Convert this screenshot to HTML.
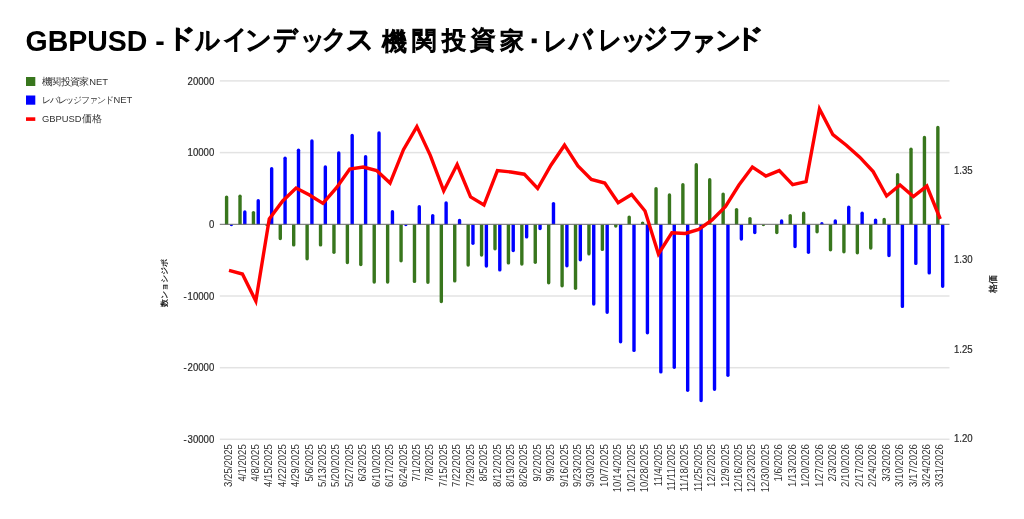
<!DOCTYPE html>
<html><head><meta charset="utf-8">
<style>
html,body{margin:0;padding:0;background:#fff;width:1024px;height:519px;overflow:hidden}
svg{position:absolute;left:0;top:0;will-change:transform}
text{font-family:"Liberation Sans",sans-serif}
.ax{font-size:9.6px;fill:#2a2a2a;stroke:#2a2a2a;stroke-width:0.18px}
.lg{font-size:9.4px;fill:#333}
.lj{fill:#333}
.xl{stroke:none;fill:#333}
.title{font-size:28.5px;font-weight:bold;fill:#000}
.tj{font-size:29px;fill:#000;stroke:#000;stroke-width:1.6px}
</style></head><body>
<svg width="1024" height="519" viewBox="0 0 1024 519">
<text transform="translate(25.5,51.3) scale(1,1.06)" class="title">GBPUSD -</text>
<text transform="translate(165.65,47.22) scale(1.025,0.896)" class="tj">ド</text>
<text transform="translate(195.0,49.0) scale(0.847,0.9)" class="tj">ル</text>
<text transform="translate(223.49,48.08) scale(0.812,0.883)" class="tj">イ</text>
<text transform="translate(245.41,48.95) scale(0.896,0.917)" class="tj">ン</text>
<text transform="translate(273.46,48.59) scale(0.84,0.977)" class="tj">デ</text>
<text transform="translate(299.61,48.79) scale(0.848,0.926)" class="tj">ッ</text>
<text transform="translate(322.2,48.3) scale(0.848,0.909)" class="tj">ク</text>
<text transform="translate(346.05,49.37) scale(0.952,0.967)" class="tj">ス</text>
<text transform="translate(382.08,49.7) scale(0.88,0.876)" class="tj">機</text>
<text transform="translate(411.6,48.82) scale(0.857,0.876)" class="tj">関</text>
<text transform="translate(441.64,48.82) scale(0.84,0.876)" class="tj">投</text>
<text transform="translate(469.9,48.12) scale(0.875,0.847)" class="tj">資</text>
<text transform="translate(500.3,48.69) scale(0.831,0.832)" class="tj">家</text>
<text transform="translate(542.75,49.87) scale(0.817,0.917)" class="tj">レ</text>
<text transform="translate(569.41,49.7) scale(0.806,1.009)" class="tj">バ</text>
<text transform="translate(597.5,49.47) scale(0.8,0.917)" class="tj">レ</text>
<text transform="translate(619.6,48.79) scale(0.9,0.926)" class="tj">ッ</text>
<text transform="translate(643.42,48.16) scale(0.838,0.984)" class="tj">ジ</text>
<text transform="translate(668.73,48.25) scale(0.833,0.863)" class="tj">フ</text>
<text transform="translate(689.87,49.78) scale(0.871,0.905)" class="tj">ァ</text>
<text transform="translate(714.52,49.0) scale(0.892,0.9)" class="tj">ン</text>
<text transform="translate(733.87,47.22) scale(1.028,0.896)" class="tj">ド</text>
<rect x="531.7" y="38.5" width="5" height="4.7" fill="#000"/>
<rect x="26" y="77" width="9.3" height="9" fill="#38761d"/>
<rect x="26" y="95.5" width="9.3" height="9.2" fill="#0000ff"/>
<rect x="26" y="117.3" width="9.3" height="3.6" fill="#ff0000"/>
<text x="42.0" y="84.9" class="lg lj" style="font-size:9.5px">機</text><text x="51.3" y="84.9" class="lg lj" style="font-size:9.5px">関</text><text x="60.6" y="84.9" class="lg lj" style="font-size:9.5px">投</text><text x="69.9" y="84.9" class="lg lj" style="font-size:9.5px">資</text><text x="79.2" y="84.9" class="lg lj" style="font-size:9.5px">家</text>
<text x="89.3" y="84.6" class="lg">NET</text>
<text x="42" y="103.3" class="lg lj" textLength="71.5" lengthAdjust="spacing">レバレッジファンド</text>
<text x="113.6" y="103.3" class="lg">NET</text>
<text x="42" y="122.2" class="lg">GBPUSD</text>
<text x="81.8" y="122.4" class="lg lj" style="font-size:9.5px">価格</text>
<text transform="translate(167,283) rotate(-90)" text-anchor="middle" class="lg" style="font-size:8.1px;fill:#111;stroke:#111;stroke-width:0.25px">数ンョシジポ</text>
<text transform="translate(996,284) rotate(-90)" text-anchor="middle" class="lg" style="font-size:8.8px;fill:#111;stroke:#111;stroke-width:0.25px">格価</text>
<rect x="219.8" y="80.15" width="729.7" height="1.5" fill="#e3e3e3"/>
<rect x="219.8" y="151.85" width="729.7" height="1.5" fill="#e3e3e3"/>
<rect x="219.8" y="295.25" width="729.7" height="1.5" fill="#e3e3e3"/>
<rect x="219.8" y="366.95" width="729.7" height="1.5" fill="#e3e3e3"/>
<rect x="219.8" y="438.55" width="729.7" height="1.5" fill="#e3e3e3"/>
<text transform="translate(214.3,84.60) scale(1,1.13)" text-anchor="end" class="ax">20000</text>
<text transform="translate(214.3,156.30) scale(1,1.13)" text-anchor="end" class="ax">10000</text>
<text transform="translate(214.3,228.10) scale(1,1.13)" text-anchor="end" class="ax">0</text>
<text transform="translate(214.3,299.70) scale(1,1.13)" text-anchor="end" class="ax">10000</text>
<text transform="translate(183.6,299.70) scale(1,1.13)" class="ax">-</text>
<text transform="translate(214.3,371.40) scale(1,1.13)" text-anchor="end" class="ax">20000</text>
<text transform="translate(183.6,371.40) scale(1,1.13)" class="ax">-</text>
<text transform="translate(214.3,443.00) scale(1,1.13)" text-anchor="end" class="ax">30000</text>
<text transform="translate(183.6,443.00) scale(1,1.13)" class="ax">-</text>
<text transform="translate(953.9,173.50) scale(1,1.13)" class="ax">1.35</text>
<text transform="translate(953.9,263.00) scale(1,1.13)" class="ax">1.30</text>
<text transform="translate(953.9,352.60) scale(1,1.13)" class="ax">1.25</text>
<text transform="translate(953.9,442.40) scale(1,1.13)" class="ax">1.20</text>
<path d="M224.90,224.40V197.10A1.70,1.70 0 0 1 228.30,197.10V224.40Z" fill="#38761d"/>
<path d="M229.70,224.40V224.50A1.70,1.70 0 0 0 233.10,224.50V224.40Z" fill="#0000ff"/>
<path d="M238.32,224.40V196.20A1.70,1.70 0 0 1 241.72,196.20V224.40Z" fill="#38761d"/>
<path d="M243.12,224.40V212.00A1.70,1.70 0 0 1 246.52,212.00V224.40Z" fill="#0000ff"/>
<path d="M251.74,224.40V212.60A1.70,1.70 0 0 1 255.14,212.60V224.40Z" fill="#38761d"/>
<path d="M256.54,224.40V200.70A1.70,1.70 0 0 1 259.94,200.70V224.40Z" fill="#0000ff"/>
<path d="M265.16,224.40V224.50A1.70,1.70 0 0 0 268.56,224.50V224.40Z" fill="#38761d"/>
<path d="M269.96,224.40V168.70A1.70,1.70 0 0 1 273.36,168.70V224.40Z" fill="#0000ff"/>
<path d="M278.58,224.40V238.50A1.70,1.70 0 0 0 281.98,238.50V224.40Z" fill="#38761d"/>
<path d="M283.38,224.40V158.20A1.70,1.70 0 0 1 286.78,158.20V224.40Z" fill="#0000ff"/>
<path d="M292.00,224.40V244.90A1.70,1.70 0 0 0 295.40,244.90V224.40Z" fill="#38761d"/>
<path d="M296.80,224.40V150.20A1.70,1.70 0 0 1 300.20,150.20V224.40Z" fill="#0000ff"/>
<path d="M305.42,224.40V258.70A1.70,1.70 0 0 0 308.82,258.70V224.40Z" fill="#38761d"/>
<path d="M310.22,224.40V140.90A1.70,1.70 0 0 1 313.62,140.90V224.40Z" fill="#0000ff"/>
<path d="M318.84,224.40V244.90A1.70,1.70 0 0 0 322.24,244.90V224.40Z" fill="#38761d"/>
<path d="M323.64,224.40V166.90A1.70,1.70 0 0 1 327.04,166.90V224.40Z" fill="#0000ff"/>
<path d="M332.26,224.40V252.30A1.70,1.70 0 0 0 335.66,252.30V224.40Z" fill="#38761d"/>
<path d="M337.06,224.40V152.90A1.70,1.70 0 0 1 340.46,152.90V224.40Z" fill="#0000ff"/>
<path d="M345.68,224.40V262.50A1.70,1.70 0 0 0 349.08,262.50V224.40Z" fill="#38761d"/>
<path d="M350.48,224.40V135.50A1.70,1.70 0 0 1 353.88,135.50V224.40Z" fill="#0000ff"/>
<path d="M359.10,224.40V264.60A1.70,1.70 0 0 0 362.50,264.60V224.40Z" fill="#38761d"/>
<path d="M363.90,224.40V156.70A1.70,1.70 0 0 1 367.30,156.70V224.40Z" fill="#0000ff"/>
<path d="M372.52,224.40V282.00A1.70,1.70 0 0 0 375.92,282.00V224.40Z" fill="#38761d"/>
<path d="M377.32,224.40V132.90A1.70,1.70 0 0 1 380.72,132.90V224.40Z" fill="#0000ff"/>
<path d="M385.94,224.40V282.00A1.70,1.70 0 0 0 389.34,282.00V224.40Z" fill="#38761d"/>
<path d="M390.74,224.40V211.70A1.70,1.70 0 0 1 394.14,211.70V224.40Z" fill="#0000ff"/>
<path d="M399.36,224.40V260.80A1.70,1.70 0 0 0 402.76,260.80V224.40Z" fill="#38761d"/>
<path d="M404.16,224.40V224.50A1.70,1.70 0 0 0 407.56,224.50V224.40Z" fill="#0000ff"/>
<path d="M412.78,224.40V281.40A1.70,1.70 0 0 0 416.18,281.40V224.40Z" fill="#38761d"/>
<path d="M417.58,224.40V206.70A1.70,1.70 0 0 1 420.98,206.70V224.40Z" fill="#0000ff"/>
<path d="M426.20,224.40V282.20A1.70,1.70 0 0 0 429.60,282.20V224.40Z" fill="#38761d"/>
<path d="M431.00,224.40V215.60A1.70,1.70 0 0 1 434.40,215.60V224.40Z" fill="#0000ff"/>
<path d="M439.62,224.40V301.50A1.70,1.70 0 0 0 443.02,301.50V224.40Z" fill="#38761d"/>
<path d="M444.42,224.40V203.00A1.70,1.70 0 0 1 447.82,203.00V224.40Z" fill="#0000ff"/>
<path d="M453.04,224.40V280.90A1.70,1.70 0 0 0 456.44,280.90V224.40Z" fill="#38761d"/>
<path d="M457.84,224.40V220.40A1.70,1.70 0 0 1 461.24,220.40V224.40Z" fill="#0000ff"/>
<path d="M466.46,224.40V265.00A1.70,1.70 0 0 0 469.86,265.00V224.40Z" fill="#38761d"/>
<path d="M471.26,224.40V243.20A1.70,1.70 0 0 0 474.66,243.20V224.40Z" fill="#0000ff"/>
<path d="M479.88,224.40V255.10A1.70,1.70 0 0 0 483.28,255.10V224.40Z" fill="#38761d"/>
<path d="M484.68,224.40V266.10A1.70,1.70 0 0 0 488.08,266.10V224.40Z" fill="#0000ff"/>
<path d="M493.30,224.40V248.70A1.70,1.70 0 0 0 496.70,248.70V224.40Z" fill="#38761d"/>
<path d="M498.10,224.40V269.90A1.70,1.70 0 0 0 501.50,269.90V224.40Z" fill="#0000ff"/>
<path d="M506.72,224.40V262.90A1.70,1.70 0 0 0 510.12,262.90V224.40Z" fill="#38761d"/>
<path d="M511.52,224.40V250.60A1.70,1.70 0 0 0 514.92,250.60V224.40Z" fill="#0000ff"/>
<path d="M520.14,224.40V264.00A1.70,1.70 0 0 0 523.54,264.00V224.40Z" fill="#38761d"/>
<path d="M524.94,224.40V236.90A1.70,1.70 0 0 0 528.34,236.90V224.40Z" fill="#0000ff"/>
<path d="M533.56,224.40V262.20A1.70,1.70 0 0 0 536.96,262.20V224.40Z" fill="#38761d"/>
<path d="M538.36,224.40V228.50A1.70,1.70 0 0 0 541.76,228.50V224.40Z" fill="#0000ff"/>
<path d="M546.98,224.40V282.80A1.70,1.70 0 0 0 550.38,282.80V224.40Z" fill="#38761d"/>
<path d="M551.78,224.40V203.60A1.70,1.70 0 0 1 555.18,203.60V224.40Z" fill="#0000ff"/>
<path d="M560.40,224.40V285.80A1.70,1.70 0 0 0 563.80,285.80V224.40Z" fill="#38761d"/>
<path d="M565.20,224.40V265.80A1.70,1.70 0 0 0 568.60,265.80V224.40Z" fill="#0000ff"/>
<path d="M573.82,224.40V288.20A1.70,1.70 0 0 0 577.22,288.20V224.40Z" fill="#38761d"/>
<path d="M578.62,224.40V259.80A1.70,1.70 0 0 0 582.02,259.80V224.40Z" fill="#0000ff"/>
<path d="M587.24,224.40V253.80A1.70,1.70 0 0 0 590.64,253.80V224.40Z" fill="#38761d"/>
<path d="M592.04,224.40V304.00A1.70,1.70 0 0 0 595.44,304.00V224.40Z" fill="#0000ff"/>
<path d="M600.66,224.40V249.40A1.70,1.70 0 0 0 604.06,249.40V224.40Z" fill="#38761d"/>
<path d="M605.46,224.40V312.30A1.70,1.70 0 0 0 608.86,312.30V224.40Z" fill="#0000ff"/>
<path d="M614.08,224.40V226.10A1.70,1.70 0 0 0 617.48,226.10V224.40Z" fill="#38761d"/>
<path d="M618.88,224.40V341.70A1.70,1.70 0 0 0 622.28,341.70V224.40Z" fill="#0000ff"/>
<path d="M627.50,224.40V217.10A1.70,1.70 0 0 1 630.90,217.10V224.40Z" fill="#38761d"/>
<path d="M632.30,224.40V350.40A1.70,1.70 0 0 0 635.70,350.40V224.40Z" fill="#0000ff"/>
<path d="M640.92,224.40V223.10A1.70,1.70 0 0 1 644.32,223.10V224.40Z" fill="#38761d"/>
<path d="M645.72,224.40V332.70A1.70,1.70 0 0 0 649.12,332.70V224.40Z" fill="#0000ff"/>
<path d="M654.34,224.40V188.70A1.70,1.70 0 0 1 657.74,188.70V224.40Z" fill="#38761d"/>
<path d="M659.14,224.40V371.90A1.70,1.70 0 0 0 662.54,371.90V224.40Z" fill="#0000ff"/>
<path d="M667.76,224.40V195.00A1.70,1.70 0 0 1 671.16,195.00V224.40Z" fill="#38761d"/>
<path d="M672.56,224.40V367.30A1.70,1.70 0 0 0 675.96,367.30V224.40Z" fill="#0000ff"/>
<path d="M681.18,224.40V184.80A1.70,1.70 0 0 1 684.58,184.80V224.40Z" fill="#38761d"/>
<path d="M685.98,224.40V390.20A1.70,1.70 0 0 0 689.38,390.20V224.40Z" fill="#0000ff"/>
<path d="M694.60,224.40V164.80A1.70,1.70 0 0 1 698.00,164.80V224.40Z" fill="#38761d"/>
<path d="M699.40,224.40V400.50A1.70,1.70 0 0 0 702.80,400.50V224.40Z" fill="#0000ff"/>
<path d="M708.02,224.40V179.70A1.70,1.70 0 0 1 711.42,179.70V224.40Z" fill="#38761d"/>
<path d="M712.82,224.40V389.30A1.70,1.70 0 0 0 716.22,389.30V224.40Z" fill="#0000ff"/>
<path d="M721.44,224.40V194.10A1.70,1.70 0 0 1 724.84,194.10V224.40Z" fill="#38761d"/>
<path d="M726.24,224.40V375.20A1.70,1.70 0 0 0 729.64,375.20V224.40Z" fill="#0000ff"/>
<path d="M734.86,224.40V209.60A1.70,1.70 0 0 1 738.26,209.60V224.40Z" fill="#38761d"/>
<path d="M739.66,224.40V239.00A1.70,1.70 0 0 0 743.06,239.00V224.40Z" fill="#0000ff"/>
<path d="M748.28,224.40V218.60A1.70,1.70 0 0 1 751.68,218.60V224.40Z" fill="#38761d"/>
<path d="M753.08,224.40V232.60A1.70,1.70 0 0 0 756.48,232.60V224.40Z" fill="#0000ff"/>
<path d="M761.70,224.40V224.50A1.70,1.70 0 0 0 765.10,224.50V224.40Z" fill="#38761d"/>
<path d="M775.12,224.40V232.60A1.70,1.70 0 0 0 778.52,232.60V224.40Z" fill="#38761d"/>
<path d="M779.92,224.40V221.00A1.70,1.70 0 0 1 783.32,221.00V224.40Z" fill="#0000ff"/>
<path d="M788.54,224.40V215.60A1.70,1.70 0 0 1 791.94,215.60V224.40Z" fill="#38761d"/>
<path d="M793.34,224.40V246.60A1.70,1.70 0 0 0 796.74,246.60V224.40Z" fill="#0000ff"/>
<path d="M801.96,224.40V213.20A1.70,1.70 0 0 1 805.36,213.20V224.40Z" fill="#38761d"/>
<path d="M806.76,224.40V252.30A1.70,1.70 0 0 0 810.16,252.30V224.40Z" fill="#0000ff"/>
<path d="M815.38,224.40V231.80A1.70,1.70 0 0 0 818.78,231.80V224.40Z" fill="#38761d"/>
<path d="M820.18,224.40V223.70A1.70,1.70 0 0 1 823.58,223.70V224.40Z" fill="#0000ff"/>
<path d="M828.80,224.40V249.80A1.70,1.70 0 0 0 832.20,249.80V224.40Z" fill="#38761d"/>
<path d="M833.60,224.40V221.00A1.70,1.70 0 0 1 837.00,221.00V224.40Z" fill="#0000ff"/>
<path d="M842.22,224.40V251.70A1.70,1.70 0 0 0 845.62,251.70V224.40Z" fill="#38761d"/>
<path d="M847.02,224.40V207.20A1.70,1.70 0 0 1 850.42,207.20V224.40Z" fill="#0000ff"/>
<path d="M855.64,224.40V252.80A1.70,1.70 0 0 0 859.04,252.80V224.40Z" fill="#38761d"/>
<path d="M860.44,224.40V213.20A1.70,1.70 0 0 1 863.84,213.20V224.40Z" fill="#0000ff"/>
<path d="M869.06,224.40V248.10A1.70,1.70 0 0 0 872.46,248.10V224.40Z" fill="#38761d"/>
<path d="M873.86,224.40V220.10A1.70,1.70 0 0 1 877.26,220.10V224.40Z" fill="#0000ff"/>
<path d="M882.48,224.40V219.50A1.70,1.70 0 0 1 885.88,219.50V224.40Z" fill="#38761d"/>
<path d="M887.28,224.40V255.50A1.70,1.70 0 0 0 890.68,255.50V224.40Z" fill="#0000ff"/>
<path d="M895.90,224.40V174.70A1.70,1.70 0 0 1 899.30,174.70V224.40Z" fill="#38761d"/>
<path d="M900.70,224.40V306.40A1.70,1.70 0 0 0 904.10,306.40V224.40Z" fill="#0000ff"/>
<path d="M909.32,224.40V149.30A1.70,1.70 0 0 1 912.72,149.30V224.40Z" fill="#38761d"/>
<path d="M914.12,224.40V263.40A1.70,1.70 0 0 0 917.52,263.40V224.40Z" fill="#0000ff"/>
<path d="M922.74,224.40V137.50A1.70,1.70 0 0 1 926.14,137.50V224.40Z" fill="#38761d"/>
<path d="M927.54,224.40V272.90A1.70,1.70 0 0 0 930.94,272.90V224.40Z" fill="#0000ff"/>
<path d="M936.16,224.40V127.50A1.70,1.70 0 0 1 939.56,127.50V224.40Z" fill="#38761d"/>
<path d="M940.96,224.40V286.20A1.70,1.70 0 0 0 944.36,286.20V224.40Z" fill="#0000ff"/>
<rect x="219.8" y="223.80" width="729.7" height="1.0" fill="#6a6a6a"/>
<polyline points="229.00,270.40 242.42,274.00 255.84,301.00 269.26,219.00 282.68,201.00 296.10,188.00 309.52,195.00 322.94,203.40 336.36,187.90 349.78,169.10 363.20,167.00 376.62,170.60 390.04,183.10 403.46,149.70 416.88,126.60 430.30,155.30 443.72,190.90 457.14,164.60 470.56,196.90 483.98,205.00 497.40,170.60 510.82,172.00 524.24,174.20 537.66,188.50 551.08,165.00 564.50,145.20 577.92,166.00 591.34,179.50 604.76,183.10 618.18,202.80 631.60,194.50 645.02,211.00 658.44,254.00 671.86,232.80 685.28,233.50 698.70,229.50 712.12,220.00 725.54,206.40 738.96,185.00 752.38,167.00 765.80,176.00 779.22,170.60 792.64,184.60 806.06,181.60 819.48,109.00 832.90,134.70 846.32,145.20 859.74,157.20 873.16,171.60 886.58,196.00 900.00,184.90 913.42,196.60 926.84,186.10 940.26,219.00" fill="none" stroke="#ff0000" stroke-width="3.4" stroke-linejoin="miter" stroke-miterlimit="4"/>
<text transform="translate(232.10,444.2) rotate(-90) scale(1,1.08)" text-anchor="end" class="ax xl">3/25/2025</text>
<text transform="translate(245.52,444.2) rotate(-90) scale(1,1.08)" text-anchor="end" class="ax xl">4/1/2025</text>
<text transform="translate(258.94,444.2) rotate(-90) scale(1,1.08)" text-anchor="end" class="ax xl">4/8/2025</text>
<text transform="translate(272.36,444.2) rotate(-90) scale(1,1.08)" text-anchor="end" class="ax xl">4/15/2025</text>
<text transform="translate(285.78,444.2) rotate(-90) scale(1,1.08)" text-anchor="end" class="ax xl">4/22/2025</text>
<text transform="translate(299.20,444.2) rotate(-90) scale(1,1.08)" text-anchor="end" class="ax xl">4/29/2025</text>
<text transform="translate(312.62,444.2) rotate(-90) scale(1,1.08)" text-anchor="end" class="ax xl">5/6/2025</text>
<text transform="translate(326.04,444.2) rotate(-90) scale(1,1.08)" text-anchor="end" class="ax xl">5/13/2025</text>
<text transform="translate(339.46,444.2) rotate(-90) scale(1,1.08)" text-anchor="end" class="ax xl">5/20/2025</text>
<text transform="translate(352.88,444.2) rotate(-90) scale(1,1.08)" text-anchor="end" class="ax xl">5/27/2025</text>
<text transform="translate(366.30,444.2) rotate(-90) scale(1,1.08)" text-anchor="end" class="ax xl">6/3/2025</text>
<text transform="translate(379.72,444.2) rotate(-90) scale(1,1.08)" text-anchor="end" class="ax xl">6/10/2025</text>
<text transform="translate(393.14,444.2) rotate(-90) scale(1,1.08)" text-anchor="end" class="ax xl">6/17/2025</text>
<text transform="translate(406.56,444.2) rotate(-90) scale(1,1.08)" text-anchor="end" class="ax xl">6/24/2025</text>
<text transform="translate(419.98,444.2) rotate(-90) scale(1,1.08)" text-anchor="end" class="ax xl">7/1/2025</text>
<text transform="translate(433.40,444.2) rotate(-90) scale(1,1.08)" text-anchor="end" class="ax xl">7/8/2025</text>
<text transform="translate(446.82,444.2) rotate(-90) scale(1,1.08)" text-anchor="end" class="ax xl">7/15/2025</text>
<text transform="translate(460.24,444.2) rotate(-90) scale(1,1.08)" text-anchor="end" class="ax xl">7/22/2025</text>
<text transform="translate(473.66,444.2) rotate(-90) scale(1,1.08)" text-anchor="end" class="ax xl">7/29/2025</text>
<text transform="translate(487.08,444.2) rotate(-90) scale(1,1.08)" text-anchor="end" class="ax xl">8/5/2025</text>
<text transform="translate(500.50,444.2) rotate(-90) scale(1,1.08)" text-anchor="end" class="ax xl">8/12/2025</text>
<text transform="translate(513.92,444.2) rotate(-90) scale(1,1.08)" text-anchor="end" class="ax xl">8/19/2025</text>
<text transform="translate(527.34,444.2) rotate(-90) scale(1,1.08)" text-anchor="end" class="ax xl">8/26/2025</text>
<text transform="translate(540.76,444.2) rotate(-90) scale(1,1.08)" text-anchor="end" class="ax xl">9/2/2025</text>
<text transform="translate(554.18,444.2) rotate(-90) scale(1,1.08)" text-anchor="end" class="ax xl">9/9/2025</text>
<text transform="translate(567.60,444.2) rotate(-90) scale(1,1.08)" text-anchor="end" class="ax xl">9/16/2025</text>
<text transform="translate(581.02,444.2) rotate(-90) scale(1,1.08)" text-anchor="end" class="ax xl">9/23/2025</text>
<text transform="translate(594.44,444.2) rotate(-90) scale(1,1.08)" text-anchor="end" class="ax xl">9/30/2025</text>
<text transform="translate(607.86,444.2) rotate(-90) scale(1,1.08)" text-anchor="end" class="ax xl">10/7/2025</text>
<text transform="translate(621.28,444.2) rotate(-90) scale(1,1.08)" text-anchor="end" class="ax xl">10/14/2025</text>
<text transform="translate(634.70,444.2) rotate(-90) scale(1,1.08)" text-anchor="end" class="ax xl">10/21/2025</text>
<text transform="translate(648.12,444.2) rotate(-90) scale(1,1.08)" text-anchor="end" class="ax xl">10/28/2025</text>
<text transform="translate(661.54,444.2) rotate(-90) scale(1,1.08)" text-anchor="end" class="ax xl">11/4/2025</text>
<text transform="translate(674.96,444.2) rotate(-90) scale(1,1.08)" text-anchor="end" class="ax xl">11/11/2025</text>
<text transform="translate(688.38,444.2) rotate(-90) scale(1,1.08)" text-anchor="end" class="ax xl">11/18/2025</text>
<text transform="translate(701.80,444.2) rotate(-90) scale(1,1.08)" text-anchor="end" class="ax xl">11/25/2025</text>
<text transform="translate(715.22,444.2) rotate(-90) scale(1,1.08)" text-anchor="end" class="ax xl">12/2/2025</text>
<text transform="translate(728.64,444.2) rotate(-90) scale(1,1.08)" text-anchor="end" class="ax xl">12/9/2025</text>
<text transform="translate(742.06,444.2) rotate(-90) scale(1,1.08)" text-anchor="end" class="ax xl">12/16/2025</text>
<text transform="translate(755.48,444.2) rotate(-90) scale(1,1.08)" text-anchor="end" class="ax xl">12/23/2025</text>
<text transform="translate(768.90,444.2) rotate(-90) scale(1,1.08)" text-anchor="end" class="ax xl">12/30/2025</text>
<text transform="translate(782.32,444.2) rotate(-90) scale(1,1.08)" text-anchor="end" class="ax xl">1/6/2026</text>
<text transform="translate(795.74,444.2) rotate(-90) scale(1,1.08)" text-anchor="end" class="ax xl">1/13/2026</text>
<text transform="translate(809.16,444.2) rotate(-90) scale(1,1.08)" text-anchor="end" class="ax xl">1/20/2026</text>
<text transform="translate(822.58,444.2) rotate(-90) scale(1,1.08)" text-anchor="end" class="ax xl">1/27/2026</text>
<text transform="translate(836.00,444.2) rotate(-90) scale(1,1.08)" text-anchor="end" class="ax xl">2/3/2026</text>
<text transform="translate(849.42,444.2) rotate(-90) scale(1,1.08)" text-anchor="end" class="ax xl">2/10/2026</text>
<text transform="translate(862.84,444.2) rotate(-90) scale(1,1.08)" text-anchor="end" class="ax xl">2/17/2026</text>
<text transform="translate(876.26,444.2) rotate(-90) scale(1,1.08)" text-anchor="end" class="ax xl">2/24/2026</text>
<text transform="translate(889.68,444.2) rotate(-90) scale(1,1.08)" text-anchor="end" class="ax xl">3/3/2026</text>
<text transform="translate(903.10,444.2) rotate(-90) scale(1,1.08)" text-anchor="end" class="ax xl">3/10/2026</text>
<text transform="translate(916.52,444.2) rotate(-90) scale(1,1.08)" text-anchor="end" class="ax xl">3/17/2026</text>
<text transform="translate(929.94,444.2) rotate(-90) scale(1,1.08)" text-anchor="end" class="ax xl">3/24/2026</text>
<text transform="translate(943.36,444.2) rotate(-90) scale(1,1.08)" text-anchor="end" class="ax xl">3/31/2026</text>
</svg>
</body></html>
